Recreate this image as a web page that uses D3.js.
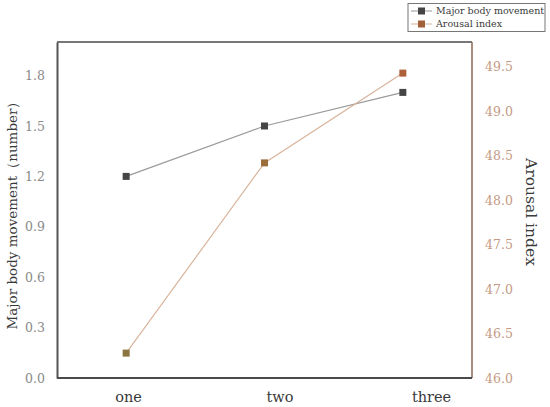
<!DOCTYPE html>
<html><head><meta charset="utf-8">
<script src="https://cdn.jsdelivr.net/npm/d3@7"></script>
<style>html,body{margin:0;padding:0;background:#fff;} svg{display:block;}</style>
</head><body>
<svg id="chart" width="550" height="407"></svg>
<script>
const categories = ["one", "two", "three"];
const movementValues = [1.2, 1.5, 1.7];
const arousalValues = [46.28, 48.42, 49.43];
const leftTicks = [0.0, 0.3, 0.6, 0.9, 1.2, 1.5, 1.8];
const rightTicks = [46.0, 46.5, 47.0, 47.5, 48.0, 48.5, 49.0, 49.5];
const seriesNames = ["Major body movement", "Arousal index"];

const FONT = "'DejaVu Serif', 'Liberation Serif', serif";
const svg = d3.select("#chart");
const m = {left: 57, right: 472, top: 42, bottom: 378};

const x = d3.scaleBand().domain(categories).range([m.left, m.right]);
const xLabel = d3.scalePoint().domain(categories).range([128, 431]);
const yL = d3.scaleLinear().domain([0, 2.0]).range([m.bottom, m.top]);
const yR = d3.scaleLinear().domain([46, 49.78]).range([m.bottom, m.top]);

// frame
svg.append("line").attr("x1", m.left).attr("x2", m.right).attr("y1", m.top).attr("y2", m.top)
  .attr("stroke", "#4a4a4a").attr("stroke-width", 1.5);
svg.append("line").attr("x1", m.right).attr("x2", m.right).attr("y1", m.top).attr("y2", m.bottom)
  .attr("stroke", "#8a6656").attr("stroke-width", 1.5);

// left axis
const gL = svg.append("g").attr("transform", `translate(${m.left},0)`)
  .call(d3.axisLeft(yL).tickValues(leftTicks).tickFormat(d3.format(".1f")).tickSize(0).tickPadding(12));
gL.select(".domain").attr("stroke", "#555").attr("stroke-width", 2);
gL.selectAll("text").attr("font-family", FONT).attr("font-size", 12.5).attr("fill", "#8a8a8a");

// right axis
const gR = svg.append("g").attr("transform", `translate(${m.right},0)`)
  .call(d3.axisRight(yR).tickValues(rightTicks).tickFormat(d3.format(".1f")).tickSize(0).tickPadding(13));
gR.select(".domain").remove();
gR.selectAll("text").attr("font-family", FONT).attr("font-size", 12.5).attr("fill", "#c49a84");

// bottom axis
svg.append("line").attr("x1", m.left).attr("x2", m.right).attr("y1", m.bottom).attr("y2", m.bottom)
  .attr("stroke", "#4a4a4a").attr("stroke-width", 2);
const gB = svg.append("g").attr("transform", `translate(0,${m.bottom})`)
  .call(d3.axisBottom(xLabel).tickSize(0).tickPadding(14));
gB.select(".domain").remove();
gB.selectAll("text").attr("font-family", FONT).attr("font-size", 14.5).attr("fill", "#3a3a3a");

// axis titles
svg.append("text").attr("transform", `translate(13,${(m.top + m.bottom) / 2 + 2}) rotate(-90)`)
  .attr("text-anchor", "middle").attr("dominant-baseline", "middle")
  .attr("font-family", FONT).attr("font-size", 13.5).attr("fill", "#3a3a3a")
  .text("Major body movement（number）");
svg.append("text").attr("transform", `translate(530,${(m.top + m.bottom) / 2 + 2}) rotate(90)`)
  .attr("text-anchor", "middle").attr("dominant-baseline", "middle")
  .attr("font-family", FONT).attr("font-size", 15.5).attr("fill", "#3a3a3a")
  .text("Arousal index");

const cx = d => x(d) + x.bandwidth() / 2;

// movement series
const lineL = d3.line().x((d, i) => cx(categories[i])).y(d => yL(d));
svg.append("path").datum(movementValues).attr("d", lineL)
  .attr("fill", "none").attr("stroke", "#9a9a9a").attr("stroke-width", 1.2);
svg.selectAll(".mk1").data(movementValues).enter().append("rect")
  .attr("x", (d, i) => cx(categories[i]) - 3.5).attr("y", d => yL(d) - 3.5)
  .attr("width", 7).attr("height", 7).attr("fill", "#454545");

// arousal series
const lineR = d3.line().x((d, i) => cx(categories[i])).y(d => yR(d));
svg.append("path").datum(arousalValues).attr("d", lineR)
  .attr("fill", "none").attr("stroke", "#d8b49c").attr("stroke-width", 1.2);
const orangeColors = ["#8c7440", "#9a6d3a", "#ad603a"];
svg.selectAll(".mk2").data(arousalValues).enter().append("rect")
  .attr("x", (d, i) => cx(categories[i]) - 3.5).attr("y", d => yR(d) - 3.5)
  .attr("width", 7).attr("height", 7).attr("fill", (d, i) => orangeColors[i]);

// legend
const lg = svg.append("g");
lg.append("rect").attr("x", 408).attr("y", 3.5).attr("width", 137).attr("height", 28)
  .attr("fill", "#fff").attr("stroke", "#777").attr("stroke-width", 1);
const legendColors = [["#999", "#454545"], ["#d8b49c", "#a0603a"]];
seriesNames.forEach((name, i) => {
  const yy = 11 + i * 13;
  lg.append("line").attr("x1", 411).attr("x2", 432).attr("y1", yy).attr("y2", yy)
    .attr("stroke", legendColors[i][0]).attr("stroke-width", 1);
  lg.append("rect").attr("x", 418).attr("y", yy - 3.5).attr("width", 7).attr("height", 7)
    .attr("fill", legendColors[i][1]);
  lg.append("text").attr("x", 436).attr("y", yy).attr("dominant-baseline", "middle")
    .attr("font-family", FONT).attr("font-size", 9.5).attr("fill", "#3a3a3a").text(name);
});
</script>
</body></html>
